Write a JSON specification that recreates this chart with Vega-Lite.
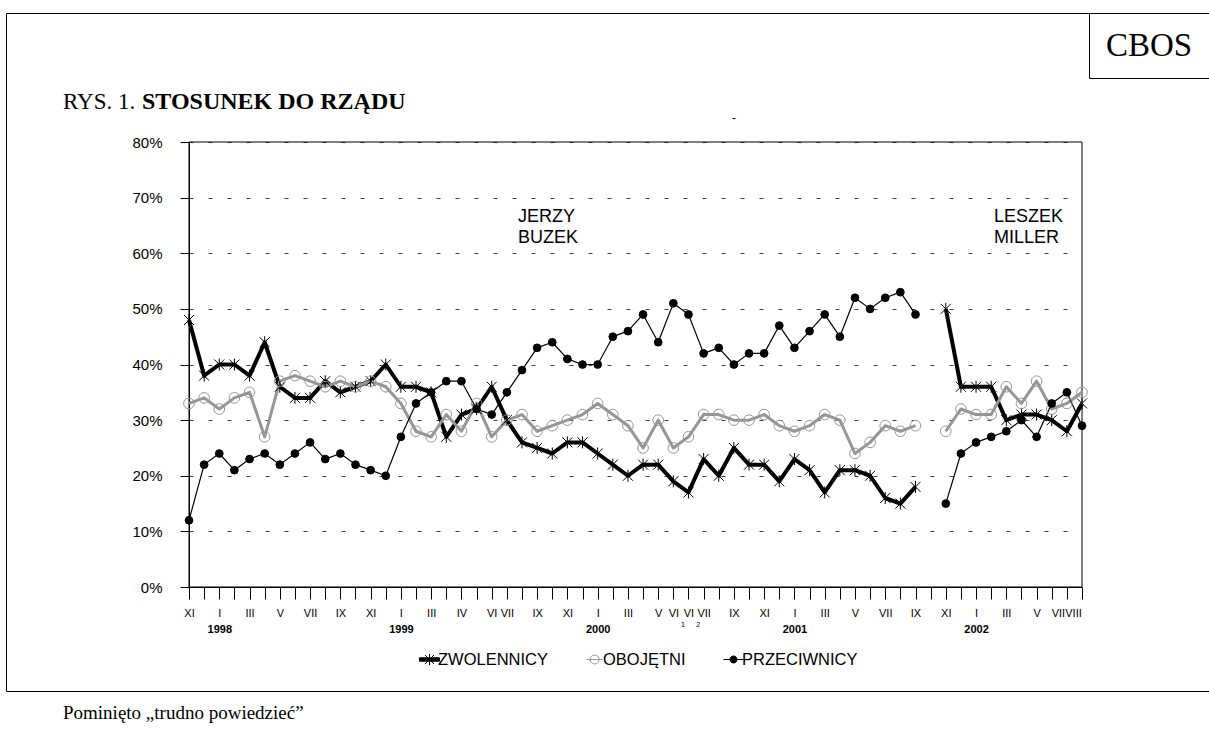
{
  "$schema": "https://vega.github.io/schema/vega-lite/v6.json",
  "padding": {"left": 5, "top": 12, "right": 0, "bottom": 0},
  "background": "white",
  "spacing": 0,
  "bounds": "flush",
  "title": {"text": "RYS. 1.", "anchor": "start", "frame": "group", "offset": -101, "dx": 57, "font": "Liberation Serif", "fontSize": 23, "fontWeight": "normal", "color": "black"},
  "datasets": {
    "main": [
      {"i": 0, "g": "B", "ZWOLENNICY": 48, "OBOJĘTNI": 33, "PRZECIWNICY": 12},
      {"i": 1, "g": "B", "ZWOLENNICY": 38, "OBOJĘTNI": 34, "PRZECIWNICY": 22},
      {"i": 2, "g": "B", "ZWOLENNICY": 40, "OBOJĘTNI": 32, "PRZECIWNICY": 24},
      {"i": 3, "g": "B", "ZWOLENNICY": 40, "OBOJĘTNI": 34, "PRZECIWNICY": 21},
      {"i": 4, "g": "B", "ZWOLENNICY": 38, "OBOJĘTNI": 35, "PRZECIWNICY": 23},
      {"i": 5, "g": "B", "ZWOLENNICY": 44, "OBOJĘTNI": 27, "PRZECIWNICY": 24},
      {"i": 6, "g": "B", "ZWOLENNICY": 36, "OBOJĘTNI": 37, "PRZECIWNICY": 22},
      {"i": 7, "g": "B", "ZWOLENNICY": 34, "OBOJĘTNI": 38, "PRZECIWNICY": 24},
      {"i": 8, "g": "B", "ZWOLENNICY": 34, "OBOJĘTNI": 37, "PRZECIWNICY": 26},
      {"i": 9, "g": "B", "ZWOLENNICY": 37, "OBOJĘTNI": 36, "PRZECIWNICY": 23},
      {"i": 10, "g": "B", "ZWOLENNICY": 35, "OBOJĘTNI": 37, "PRZECIWNICY": 24},
      {"i": 11, "g": "B", "ZWOLENNICY": 36, "OBOJĘTNI": 36, "PRZECIWNICY": 22},
      {"i": 12, "g": "B", "ZWOLENNICY": 37, "OBOJĘTNI": 37, "PRZECIWNICY": 21},
      {"i": 13, "g": "B", "ZWOLENNICY": 40, "OBOJĘTNI": 36, "PRZECIWNICY": 20},
      {"i": 14, "g": "B", "ZWOLENNICY": 36, "OBOJĘTNI": 33, "PRZECIWNICY": 27},
      {"i": 15, "g": "B", "ZWOLENNICY": 36, "OBOJĘTNI": 28, "PRZECIWNICY": 33},
      {"i": 16, "g": "B", "ZWOLENNICY": 35, "OBOJĘTNI": 27, "PRZECIWNICY": 35},
      {"i": 17, "g": "B", "ZWOLENNICY": 27, "OBOJĘTNI": 31, "PRZECIWNICY": 37},
      {"i": 18, "g": "B", "ZWOLENNICY": 31, "OBOJĘTNI": 28, "PRZECIWNICY": 37},
      {"i": 19, "g": "B", "ZWOLENNICY": 32, "OBOJĘTNI": 33, "PRZECIWNICY": 32},
      {"i": 20, "g": "B", "ZWOLENNICY": 36, "OBOJĘTNI": 27, "PRZECIWNICY": 31},
      {"i": 21, "g": "B", "ZWOLENNICY": 30, "OBOJĘTNI": 30, "PRZECIWNICY": 35},
      {"i": 22, "g": "B", "ZWOLENNICY": 26, "OBOJĘTNI": 31, "PRZECIWNICY": 39},
      {"i": 23, "g": "B", "ZWOLENNICY": 25, "OBOJĘTNI": 28, "PRZECIWNICY": 43},
      {"i": 24, "g": "B", "ZWOLENNICY": 24, "OBOJĘTNI": 29, "PRZECIWNICY": 44},
      {"i": 25, "g": "B", "ZWOLENNICY": 26, "OBOJĘTNI": 30, "PRZECIWNICY": 41},
      {"i": 26, "g": "B", "ZWOLENNICY": 26, "OBOJĘTNI": 31, "PRZECIWNICY": 40},
      {"i": 27, "g": "B", "ZWOLENNICY": 24, "OBOJĘTNI": 33, "PRZECIWNICY": 40},
      {"i": 28, "g": "B", "ZWOLENNICY": 22, "OBOJĘTNI": 31, "PRZECIWNICY": 45},
      {"i": 29, "g": "B", "ZWOLENNICY": 20, "OBOJĘTNI": 29, "PRZECIWNICY": 46},
      {"i": 30, "g": "B", "ZWOLENNICY": 22, "OBOJĘTNI": 25, "PRZECIWNICY": 49},
      {"i": 31, "g": "B", "ZWOLENNICY": 22, "OBOJĘTNI": 30, "PRZECIWNICY": 44},
      {"i": 32, "g": "B", "ZWOLENNICY": 19, "OBOJĘTNI": 25, "PRZECIWNICY": 51},
      {"i": 33, "g": "B", "ZWOLENNICY": 17, "OBOJĘTNI": 27, "PRZECIWNICY": 49},
      {"i": 34, "g": "B", "ZWOLENNICY": 23, "OBOJĘTNI": 31, "PRZECIWNICY": 42},
      {"i": 35, "g": "B", "ZWOLENNICY": 20, "OBOJĘTNI": 31, "PRZECIWNICY": 43},
      {"i": 36, "g": "B", "ZWOLENNICY": 25, "OBOJĘTNI": 30, "PRZECIWNICY": 40},
      {"i": 37, "g": "B", "ZWOLENNICY": 22, "OBOJĘTNI": 30, "PRZECIWNICY": 42},
      {"i": 38, "g": "B", "ZWOLENNICY": 22, "OBOJĘTNI": 31, "PRZECIWNICY": 42},
      {"i": 39, "g": "B", "ZWOLENNICY": 19, "OBOJĘTNI": 29, "PRZECIWNICY": 47},
      {"i": 40, "g": "B", "ZWOLENNICY": 23, "OBOJĘTNI": 28, "PRZECIWNICY": 43},
      {"i": 41, "g": "B", "ZWOLENNICY": 21, "OBOJĘTNI": 29, "PRZECIWNICY": 46},
      {"i": 42, "g": "B", "ZWOLENNICY": 17, "OBOJĘTNI": 31, "PRZECIWNICY": 49},
      {"i": 43, "g": "B", "ZWOLENNICY": 21, "OBOJĘTNI": 30, "PRZECIWNICY": 45},
      {"i": 44, "g": "B", "ZWOLENNICY": 21, "OBOJĘTNI": 24, "PRZECIWNICY": 52},
      {"i": 45, "g": "B", "ZWOLENNICY": 20, "OBOJĘTNI": 26, "PRZECIWNICY": 50},
      {"i": 46, "g": "B", "ZWOLENNICY": 16, "OBOJĘTNI": 29, "PRZECIWNICY": 52},
      {"i": 47, "g": "B", "ZWOLENNICY": 15, "OBOJĘTNI": 28, "PRZECIWNICY": 53},
      {"i": 48, "g": "B", "ZWOLENNICY": 18, "OBOJĘTNI": 29, "PRZECIWNICY": 49},
      {"i": 50, "g": "M", "ZWOLENNICY": 50, "OBOJĘTNI": 28, "PRZECIWNICY": 15},
      {"i": 51, "g": "M", "ZWOLENNICY": 36, "OBOJĘTNI": 32, "PRZECIWNICY": 24},
      {"i": 52, "g": "M", "ZWOLENNICY": 36, "OBOJĘTNI": 31, "PRZECIWNICY": 26},
      {"i": 53, "g": "M", "ZWOLENNICY": 36, "OBOJĘTNI": 31, "PRZECIWNICY": 27},
      {"i": 54, "g": "M", "ZWOLENNICY": 30, "OBOJĘTNI": 36, "PRZECIWNICY": 28},
      {"i": 55, "g": "M", "ZWOLENNICY": 31, "OBOJĘTNI": 33, "PRZECIWNICY": 30},
      {"i": 56, "g": "M", "ZWOLENNICY": 31, "OBOJĘTNI": 37, "PRZECIWNICY": 27},
      {"i": 57, "g": "M", "ZWOLENNICY": 30, "OBOJĘTNI": 32, "PRZECIWNICY": 33},
      {"i": 58, "g": "M", "ZWOLENNICY": 28, "OBOJĘTNI": 33, "PRZECIWNICY": 35},
      {"i": 59, "g": "M", "ZWOLENNICY": 33, "OBOJĘTNI": 35, "PRZECIWNICY": 29}
    ]
  },
  "vconcat": [
    {
      "width": 1203,
      "height": 678,
      "title": {"text": "STOSUNEK DO RZĄDU", "anchor": "start", "frame": "group", "offset": -101, "dx": 136, "font": "Liberation Serif", "fontSize": 24, "fontWeight": "bold", "color": "black"},
      "resolve": {"scale": {"x": "independent", "y": "independent"}},
      "layer": [
        {
          "resolve": {"axis": {"x": "independent", "y": "independent"}},
          "layer": [
            {
              "data": {"values": [{"kind": "plot"}]},
              "mark": {"type": "rect", "fill": "transparent", "stroke": "black", "strokeWidth": 1},
              "encoding": {
                "x": {"datum": 0, "type": "quantitative", "axis": null},
                "x2": {"datum": 59},
                "y": {"datum": 0, "type": "quantitative", "axis": null},
                "y2": {"datum": 80}
              }
            },
            {
              "data": {"name": "main"},
              "transform": [{"fold": ["ZWOLENNICY", "OBOJĘTNI", "PRZECIWNICY"], "as": ["series", "v"]}],
              "mark": {"type": "line", "strokeJoin": "round"},
              "encoding": {
                "x": {
                  "field": "i", "type": "quantitative",
                  "scale": {"domain": [0, 59], "range": [183, 1076], "nice": false, "zero": false},
                  "axis": {
                    "orient": "bottom", "offset": -104, "title": null, "grid": false,
                    "values": [0,1,2,3,4,5,6,7,8,9,10,11,12,13,14,15,16,17,18,19,20,21,22,23,24,25,26,27,28,29,30,31,32,33,34,35,36,37,38,39,40,41,42,43,44,45,46,47,48,49,50,51,52,53,54,55,56,57,58,59],
                    "labelExpr": "['XI','','I','','III','','V','','VII','','IX','','XI','','I','','III','','IV','','VI','VII','','IX','','XI','','I','','III','','V','VI','VI','VII','','IX','','XI','','I','','III','','V','','VII','','IX','','XI','','I','','III','','V','','VII','VIII'][datum.value]",
                    "tickSize": 12, "tickColor": "black", "domainColor": "black",
                    "labelFont": "Liberation Sans", "labelFontSize": 11, "labelColor": "black",
                    "labelPadding": 8, "labelOverlap": false, "labelFlush": false, "labelBound": false, "labelAngle": 0,
                    "labelOffset": {"condition": {"test": "datum.value >= 58", "value": -9}, "value": 0}
                  }
                },
                "y": {
                  "field": "v", "type": "quantitative",
                  "scale": {"domain": [0, 80], "range": [574, 129], "nice": false, "zero": true},
                  "axis": {
                    "orient": "left", "offset": -183, "title": null,
                    "values": [0, 10, 20, 30, 40, 50, 60, 70, 80],
                    "labelExpr": "datum.value + '%'",
                    "tickSize": 9, "tickColor": "black", "domainColor": "black",
                    "labelFont": "Liberation Sans", "labelFontSize": 15, "labelColor": "black", "labelPadding": 18,
                    "grid": true, "gridColor": "#404040", "gridDash": [4, 15], "gridWidth": 1,
                    "labelOverlap": false, "labelFlush": false
                  }
                },
                "color": {
                  "field": "series", "type": "nominal",
                  "scale": {"domain": ["ZWOLENNICY", "OBOJĘTNI", "PRZECIWNICY"], "range": ["black", "#969696", "black"]},
                  "legend": {
                    "orient": "none", "legendX": 413, "legendY": 636, "direction": "horizontal", "title": null,
                    "labelFont": "Liberation Sans", "labelFontSize": 16.5, "labelColor": "black", "labelOffset": -2,
                    "symbolSize": 400, "columnPadding": 35, "symbolStrokeWidth": 1,
                    "encode": {
                      "symbols": {
                        "update": {
                          "shape": {"signal": "datum.value == 'ZWOLENNICY' ? 'M-1,-0.17H1V0.17H-1ZM-0.45,-0.45L0.45,0.45M-0.45,0.45L0.45,-0.45M0,-0.55V0.55' : datum.value == 'OBOJĘTNI' ? 'M-0.8,0H0.8M0.45,0A0.45,0.45 0 1 1 -0.45,0A0.45,0.45 0 1 1 0.45,0' : 'M-1,0H1M0.35,0A0.35,0.35 0 1 1 -0.35,0A0.35,0.35 0 1 1 0.35,0'"},
                          "fill": {"signal": "datum.value == 'OBOJĘTNI' ? 'transparent' : 'black'"},
                          "stroke": {"signal": "datum.value == 'OBOJĘTNI' ? '#969696' : 'black'"},
                          "strokeWidth": {"value": 1},
                          "opacity": {"value": 1}
                        }
                      }
                    }
                  }
                },
                "strokeWidth": {
                  "condition": [
                    {"test": "datum.series == 'ZWOLENNICY'", "value": 4},
                    {"test": "datum.series == 'OBOJĘTNI'", "value": 3}
                  ],
                  "value": 1.2
                },
                "detail": {"field": "g"}
              }
            },
            {
              "data": {"name": "main"},
              "transform": [{"fold": ["ZWOLENNICY", "OBOJĘTNI", "PRZECIWNICY"], "as": ["series", "v"]}],
              "mark": {"type": "point", "strokeWidth": 1, "opacity": 1},
              "encoding": {
                "x": {"field": "i", "type": "quantitative", "axis": null},
                "y": {"field": "v", "type": "quantitative", "axis": null},
                "shape": {
                  "condition": {"test": "datum.series == 'ZWOLENNICY'", "value": "M-1,-1L1,1M-1,1L1,-1M0,-1.2V1.2"},
                  "value": "circle"
                },
                "size": {
                  "condition": [
                    {"test": "datum.series == 'ZWOLENNICY'", "value": 100},
                    {"test": "datum.series == 'OBOJĘTNI'", "value": 113}
                  ],
                  "value": 60
                },
                "stroke": {
                  "condition": {"test": "datum.series == 'OBOJĘTNI'", "value": "#969696"},
                  "value": "black"
                },
                "fill": {
                  "condition": {"test": "datum.series == 'PRZECIWNICY'", "value": "black"},
                  "value": "transparent"
                }
              }
            },
            {
              "data": {"values": [
                {"i": 21.74, "v": 66.6, "t": "JERZY"},
                {"i": 21.74, "v": 62.7, "t": "BUZEK"},
                {"i": 53.18, "v": 66.6, "t": "LESZEK"},
                {"i": 53.18, "v": 62.7, "t": "MILLER"}
              ]},
              "mark": {"type": "text", "align": "left", "baseline": "middle", "font": "Liberation Sans", "fontSize": 18, "color": "black"},
              "encoding": {
                "x": {
                  "field": "i", "type": "quantitative",
                  "axis": {
                    "orient": "bottom", "offset": -104, "title": null, "grid": false, "ticks": false, "domain": false, "tickSize": 0,
                    "values": [2, 14, 27, 40, 52],
                    "labelExpr": "datum.value == 2 ? '1998' : datum.value == 14 ? '1999' : datum.value == 27 ? '2000' : datum.value == 40 ? '2001' : '2002'",
                    "labelFont": "Liberation Sans", "labelFontSize": 11, "labelFontWeight": "bold", "labelColor": "black",
                    "labelPadding": 36.5, "labelOverlap": false, "labelFlush": false
                  }
                },
                "y": {"field": "v", "type": "quantitative", "axis": null},
                "text": {"field": "t"}
              }
            },
            {
              "data": {"values": [{"i": 36, "v": 84.3, "t": "-"}]},
              "mark": {"type": "text", "font": "Liberation Sans", "fontSize": 12, "color": "black"},
              "encoding": {
                "x": {
                  "field": "i", "type": "quantitative",
                  "axis": {
                    "orient": "bottom", "offset": -104, "title": null, "grid": false, "ticks": false, "domain": false, "tickSize": 0,
                    "values": [33, 34],
                    "labelExpr": "datum.value == 33 ? '1' : '2'",
                    "labelFont": "Liberation Sans", "labelFontSize": 7, "labelColor": "black",
                    "labelPadding": 33.5, "labelOffset": -6, "labelOverlap": false, "labelFlush": false
                  }
                },
                "y": {"field": "v", "type": "quantitative", "axis": null},
                "text": {"field": "t"}
              }
            }
          ]
        },
        {
          "data": {"values": [{"org": "CBOS"}]},
          "mark": {"type": "text", "font": "Liberation Serif", "fontSize": 33, "color": "black"},
          "encoding": {
            "text": {"field": "org"},
            "x": {
              "field": "org", "type": "nominal",
              "scale": {"range": [1083, 1203]},
              "axis": {"orient": "top", "offset": -65, "title": null, "labels": false, "ticks": false, "grid": false, "domain": true, "domainColor": "black", "domainWidth": 1}
            },
            "y": {
              "field": "org", "type": "nominal",
              "scale": {"range": [0, 65]},
              "axis": {"orient": "right", "offset": -120, "title": null, "labels": false, "ticks": false, "grid": false, "domain": true, "domainColor": "black", "domainWidth": 1}
            }
          }
        }
      ]
    },
    {
      "width": 1203,
      "height": 51,
      "view": {"strokeDash": [1254, 1203, 51, 0]},
      "title": {"text": "Pominięto „trudno powiedzieć”", "anchor": "start", "frame": "group", "offset": -32, "dx": 57, "font": "Liberation Serif", "fontSize": 19, "fontWeight": "normal", "color": "black"},
      "data": {"values": []},
      "mark": {"type": "point"},
      "encoding": {}
    }
  ],
  "config": {
    "view": {"stroke": "black", "strokeWidth": 1},
    "axis": {"labelColor": "black", "domainColor": "black", "tickColor": "black"}
  }
}
